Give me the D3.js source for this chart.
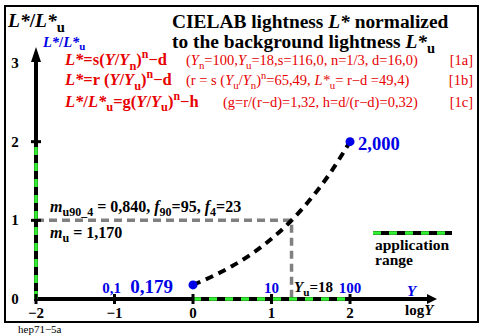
<!DOCTYPE html>
<html>
<head>
<meta charset="utf-8">
<script src="https://cdn.jsdelivr.net/npm/d3@7"></script>
<style>
  html, body { margin: 0; padding: 0; background: #fff; }
  svg { display: block; }
  text { font-family: "Liberation Serif", "DejaVu Serif", serif; }
</style>
</head>
<body>
<svg id="chart" width="489" height="336"></svg>
<script>
// Normalized CIELAB lightness curve over log Y
const curveLogY  = [0, 0.25, 0.5, 0.75, 1, 1.25, 1.5, 1.75, 2];
const curveRatio = [0.179, 0.290, 0.419, 0.576, 0.765, 0.995, 1.273, 1.605, 2.000];

// Marked end points of the curve
const markLogY  = [0, 2];
const markRatio = [0.179, 2.000];
const markLabel = ["0,179", "2,000"];

// Axis ticks
const xTicks = [-2, -1, 0, 1, 2];
const xTickLabels = ["\u22122", "\u22121", "0", "1", "2"];
const yTicks = [0, 1, 2, 3];
const yTickLabels = ["0", "1", "2", "3"];
const yValueTicks = [-1, 1, 2];          // log Y positions with Y labels
const yValueLabels = ["0,1", "10", "100"];

// Application range (log Y from 0 to 2, ratio from 0 to 2)
const appRangeX = [0, 2];
const appRangeY = [0, 2];

// Background adaptation point Yu = 18
const logYu = 1.2553;
const ratioU = 1;

const RED = "#e60000", BLUE = "#0000e6", GREEN = "#33ee33", GREY = "#808080";

const svg = d3.select("#chart");
const x = d3.scaleLinear().domain([-2, 2]).range([36, 350]);
const y = d3.scaleLinear().domain([0, 3]).range([299, 63]);

// rich text helper: parts are [text, flags] with flags i=italic, b=bold, r=regular, _=sub, ^=sup
function rich(x0, y0, parts, opt) {
  opt = opt || {};
  const fs = opt.size || 14;
  const subShift = opt.sub == null ? 0.28 : opt.sub;
  const t = svg.append("text")
    .attr("x", x0).attr("y", y0)
    .attr("font-size", fs)
    .attr("font-weight", opt.weight || "bold")
    .attr("fill", opt.fill || "#000")
    .attr("text-anchor", opt.anchor || "start");
  let shift = 0;
  parts.forEach(([s, f]) => {
    f = f || "";
    let target = 0, size = fs;
    if (f.includes("_")) { target = fs * subShift; size = fs * 0.75; }
    if (f.includes("^")) { target = -fs * 0.4; size = fs * 0.72; }
    const ts = t.append("tspan").text(s).attr("font-size", size);
    if (target !== shift) ts.attr("dy", target - shift);
    shift = target;
    if (f.includes("i")) ts.attr("font-style", "italic");
    if (f.includes("r")) ts.attr("font-weight", "normal");
    if (f.includes("b")) ts.attr("font-weight", "bold");
  });
  return t;
}

// Outer frame
svg.append("rect").attr("x", 5).attr("y", 6).attr("width", 473).attr("height", 316)
  .attr("fill", "none").attr("stroke", "#000").attr("stroke-width", 2);

// Grey guide lines to the background point
svg.append("path")
  .attr("d", `M${x(-2)},${y(ratioU)} H${x(logYu)} V${y(0)}`)
  .attr("fill", "none").attr("stroke", GREY).attr("stroke-width", 3.5)
  .attr("stroke-dasharray", "8,5");

// Axes
const axisW = 4;
svg.append("line").attr("x1", x(-2)).attr("y1", y(0)).attr("x2", 430).attr("y2", y(0))
  .attr("stroke", "#000").attr("stroke-width", axisW);
svg.append("path").attr("d", `M437,${y(0)} L427,${y(0) - 5} L427,${y(0) + 5} Z`).attr("fill", "#000");
svg.append("line").attr("x1", x(-2)).attr("y1", y(0) + 2).attr("x2", x(-2)).attr("y2", 56)
  .attr("stroke", "#000").attr("stroke-width", axisW);
svg.append("path").attr("d", `M${x(-2)},47 L${x(-2) - 5},62 L${x(-2) + 5},62 Z`).attr("fill", "#000");

// Application range overlays
svg.append("line").attr("x1", x(appRangeX[0])).attr("y1", y(0)).attr("x2", x(appRangeX[1])).attr("y2", y(0))
  .attr("stroke", GREEN).attr("stroke-width", axisW - 0.5).attr("stroke-dasharray", "8,8");
svg.append("line").attr("x1", x(-2)).attr("y1", y(appRangeY[0])).attr("x2", x(-2)).attr("y2", y(appRangeY[1]))
  .attr("stroke", GREEN).attr("stroke-width", axisW - 0.5).attr("stroke-dasharray", "8,8");

// Tick marks
svg.selectAll(".xt").data(xTicks).enter().append("line")
  .attr("x1", d => x(d)).attr("x2", d => x(d)).attr("y1", y(0) - 5).attr("y2", y(0) + 5)
  .attr("stroke", "#000").attr("stroke-width", 3);
svg.selectAll(".yt").data(yTicks.slice(1, 3)).enter().append("line")
  .attr("x1", x(-2) - 5).attr("x2", x(-2) + 5).attr("y1", d => y(d)).attr("y2", d => y(d))
  .attr("stroke", "#000").attr("stroke-width", 3);

// Tick labels
svg.selectAll(".xl").data(xTicks).enter().append("text")
  .attr("x", d => x(d)).attr("y", 318).attr("text-anchor", "middle")
  .attr("font-size", 15).attr("font-weight", "bold").text((d, i) => xTickLabels[i]);
svg.selectAll(".yl").data(yTicks).enter().append("text")
  .attr("x", 15).attr("y", d => y(d) + 5).attr("text-anchor", "middle")
  .attr("font-size", 15).attr("font-weight", "bold").text((d, i) => yTickLabels[i]);
svg.selectAll(".yv").data(yValueTicks).enter().append("text")
  .attr("x", (d, i) => x(d) + (i === 0 ? -3 : 0)).attr("y", 293).attr("text-anchor", "middle")
  .attr("font-size", 15).attr("font-weight", "bold").attr("fill", BLUE)
  .text((d, i) => yValueLabels[i]);

// Curve
const line = d3.line().x(d => x(d[0])).y(d => y(d[1])).curve(d3.curveMonotoneX);
svg.append("path").datum(curveLogY.map((v, i) => [v, curveRatio[i]]))
  .attr("d", line).attr("fill", "none").attr("stroke", "#000")
  .attr("stroke-width", 4).attr("stroke-dasharray", "8,6");

// End markers and labels
svg.selectAll(".mk").data(markLogY).enter().append("circle")
  .attr("cx", d => x(d)).attr("cy", (d, i) => y(markRatio[i])).attr("r", 4.5).attr("fill", BLUE);
svg.append("text").attr("x", x(markLogY[0]) - 20).attr("y", 293).attr("text-anchor", "end")
  .attr("font-size", 19).attr("font-weight", "bold").attr("fill", BLUE).text(markLabel[0]);
svg.append("text").attr("x", x(markLogY[1]) + 8).attr("y", y(markRatio[1]) + 8)
  .attr("font-size", 18.5).attr("font-weight", "bold").attr("fill", BLUE).text(markLabel[1]);

// Axis titles
rich(8, 27, [["L*", "i"], ["/", ""], ["L*", "i"], ["u", "_"]], { size: 19.5, sub: 0.24 });
rich(43, 47, [["L*", "i"], ["/", ""], ["L*", "i"], ["u", "_"]], { size: 14.5, sub: 0.2 });
d3.select(svg.node().lastChild).attr("fill", BLUE);
rich(407, 296, [["Y", "i"]], { size: 15, fill: BLUE });
rich(405, 315, [["log", ""], ["Y", "i"]], { size: 15 });

// Title
rich(172, 28, [["CIELAB lightness ", ""], ["L*", "i"], [" normalized", ""]], { size: 19.4 });
rich(172, 48, [["to the background lightness ", ""], ["L*", "i"], ["u", "_"]], { size: 19.4 });

// Formulas
const fsz = 16.5, psz = 14.5;
rich(65, 65, [["L*", "i"], ["=s(", ""], ["Y", "i"], ["/", ""], ["Y", "i"], ["n", "_"], [")", ""], ["n", "^"], ["\u2212d", ""]], { size: fsz, fill: RED });
rich(186, 65, [["(", ""], ["Y", "i"], ["n", "_"], ["=100,", ""], ["Y", "i"], ["u", "_"], ["=18,s=116,0, n=1/3, d=16,0)", ""]], { size: psz, fill: RED, weight: "normal" });
rich(473, 65, [["[1a]", ""]], { size: psz, fill: RED, weight: "normal", anchor: "end" });

rich(65, 85, [["L*", "i"], ["=r (", ""], ["Y", "i"], ["/", ""], ["Y", "i"], ["u", "_"], [")", ""], ["n", "^"], ["\u2212d", ""]], { size: fsz, fill: RED });
rich(186, 85, [["(r = s (", ""], ["Y", "i"], ["u", "_"], ["/", ""], ["Y", "i"], ["n", "_"], [")", ""], ["n", "^"], ["=65,49, ", ""], ["L*", "i"], ["u", "_"], ["= r\u2212d =49,4)", ""]], { size: psz, fill: RED, weight: "normal" });
rich(473, 85, [["[1b]", ""]], { size: psz, fill: RED, weight: "normal", anchor: "end" });

rich(65, 106.5, [["L*", "i"], ["/", ""], ["L*", "i"], ["u", "_"], ["=g(", ""], ["Y", "i"], ["/", ""], ["Y", "i"], ["u", "_"], [")", ""], ["n", "^"], ["\u2212h", ""]], { size: fsz, fill: RED });
rich(223, 106.5, [["(g=r/(r\u2212d)=1,32, h=d/(r\u2212d)=0,32)", ""]], { size: psz, fill: RED, weight: "normal" });
rich(473, 106.5, [["[1c]", ""]], { size: psz, fill: RED, weight: "normal", anchor: "end" });

// Annotations
rich(50, 212, [["m", "i"], ["u90_4", "_"], [" = 0,840, ", ""], ["f", "i"], ["90", "_"], ["=95, ", ""], ["f", "i"], ["4", "_"], ["=23", ""]], { size: 16 });
rich(50, 238, [["m", "i"], ["u", "_"], [" = 1,170", ""]], { size: 16 });
rich(294, 292, [["Y", "i"], ["u", "_"], ["=18", ""]], { size: 15 });

// Legend
svg.append("line").attr("x1", 373).attr("x2", 452).attr("y1", 233).attr("y2", 233)
  .attr("stroke", "#000").attr("stroke-width", axisW);
svg.append("line").attr("x1", 373).attr("x2", 452).attr("y1", 233).attr("y2", 233)
  .attr("stroke", GREEN).attr("stroke-width", axisW - 0.5).attr("stroke-dasharray", "8,8");
rich(375, 250, [["application", ""]], { size: 15.5 });
rich(375, 265, [["range", ""]], { size: 15.5 });

// Figure code
svg.append("text").attr("x", 18).attr("y", 333).attr("font-size", 11).text("hep71\u22125a");
</script>
</body>
</html>
